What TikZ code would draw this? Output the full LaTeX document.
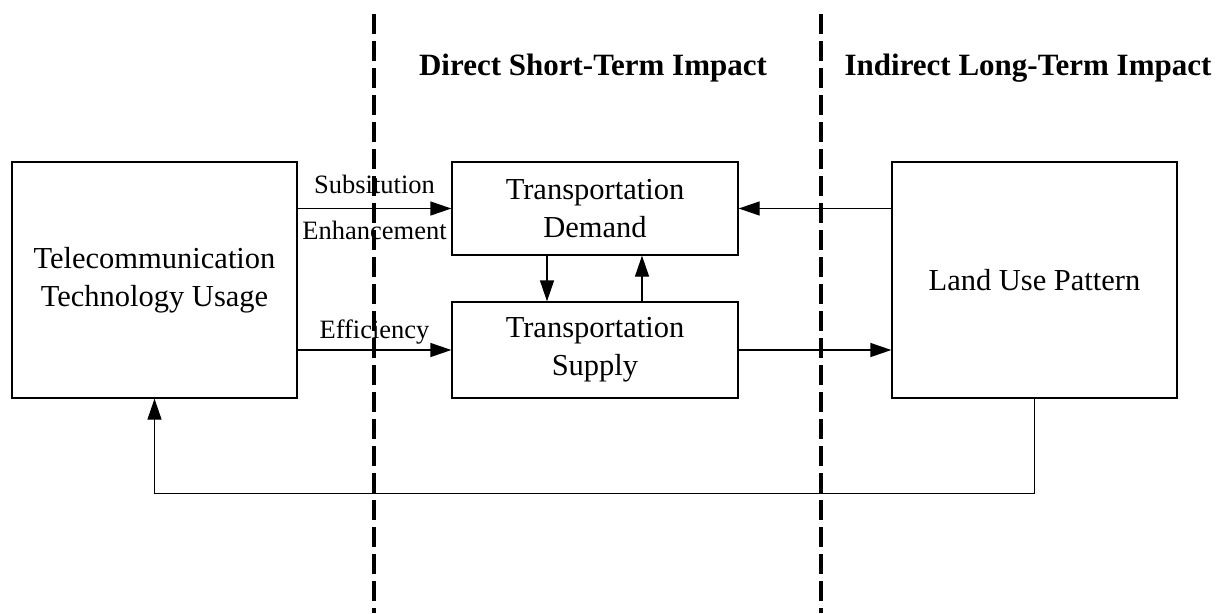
\documentclass[tikz,border=0pt]{standalone}
\usepackage{fontspec}
\setmainfont{Liberation Serif}
\usetikzlibrary{arrows.meta,calc}
\tikzset{
  x=1pt, y=-1pt,
  box/.style={draw=black, line width=1.3pt, inner sep=0pt, align=center,
    font=\fontsize{30.5}{38}\selectfont},
  lab/.style={inner sep=0pt, font=\fontsize{26.5}{30}\selectfont},
  title/.style={inner sep=0pt, anchor=base, font=\fontsize{31}{36}\selectfont\bfseries},
  arr/.style={line width=1.3pt, -{Triangle[length=21pt,width=14pt]}},
  divider/.style={line width=4pt, dash pattern=on 20pt off 7pt}
}
\begin{document}
\begin{tikzpicture}
\useasboundingbox (0,0) rectangle (1222,613);

% boxes
\node[box, minimum width=285pt, minimum height=236pt] (tcu) at (154.5,280) {Telecommunication\\Technology Usage};
\node[box, minimum width=286pt, minimum height=93pt] (dem) at (595,208.5) {Transportation\\Demand};
\node[box, minimum width=286pt, minimum height=96pt] (sup) at (595,350) {Transportation\\Supply};
\node[box, minimum width=285pt, minimum height=236pt] (land) at (1034.5,280) {Land Use Pattern};

% section dividers
\coordinate (d1top) at (374,14);
\coordinate (d1bot) at (374,613);
\coordinate (d2top) at (821,14);
\coordinate (d2bot) at (821,613);
\draw[divider] (d1top) -- (d1bot);
\draw[divider] (d2top) -- (d2bot);

% headings
\node[title] (h1) at (593,75) {Direct Short-Term Impact};
\node[title] (h2) at (1028,75) {Indirect Long-Term Impact};

% connectors
\draw[arr] (tcu.east |- dem.west) --
  node[lab, anchor=base, yshift=15pt] (l1) {Subsitution}
  node[lab, anchor=base, yshift=-31pt] (l2) {Enhancement} (dem.west);
\draw[arr] (tcu.east |- sup.west) --
  node[lab, anchor=base, yshift=12pt] (l3) {Efficiency} (sup.west);
\draw[arr] (land.west |- dem.east) -- (dem.east);
\draw[arr] (sup.east) -- (land.west |- sup.east);
\draw[arr] ([xshift=-48pt]dem.south) -- ([xshift=-48pt]sup.north);
\draw[arr] ([xshift=47pt]sup.north) -- ([xshift=47pt]dem.south);
\draw[arr] (land.south) -- ++(0,95) -| (tcu.south);
\end{tikzpicture}
\end{document}
